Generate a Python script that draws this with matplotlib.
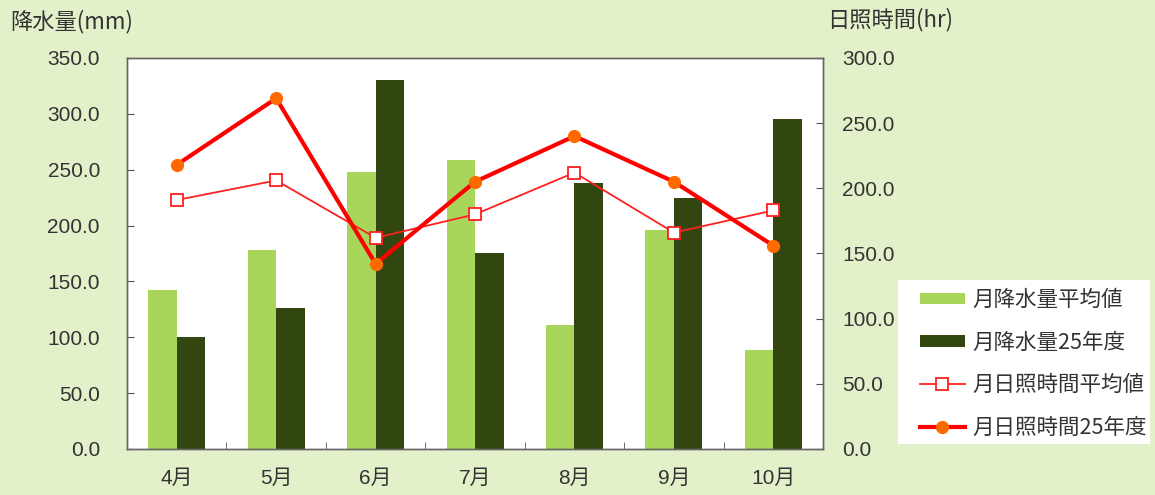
import matplotlib
matplotlib.use("Agg")
import matplotlib.pyplot as plt
from matplotlib.patches import Rectangle
import numpy as np

# data
months = ["4月", "5月", "6月", "7月", "8月", "9月", "10月"]
rain_avg = [142.0, 178.0, 248.0, 259.0, 111.0, 196.0, 89.0]
rain_25 = [100.0, 126.0, 330.0, 175.0, 238.0, 225.0, 295.0]
sun_avg = [191.0, 206.0, 162.0, 180.0, 212.0, 166.0, 183.0]
sun_25 = [218.0, 269.0, 142.0, 205.0, 240.0, 205.0, 156.0]

left_ticks = [0, 50, 100, 150, 200, 250, 300, 350]
right_ticks = [0, 50, 100, 150, 200, 250, 300]

FONT = ["Liberation Sans", "Noto Sans CJK JP", "DejaVu Sans"]
JP = ["Noto Sans CJK JP", "DejaVu Sans"]
plt.rcParams["font.family"] = FONT

bg = "#E3F1CA"
light_green = "#A8D65A"
dark_green = "#31470F"
text_col = "#333333"

fig = plt.figure(figsize=(11.55, 4.95), dpi=100, facecolor=bg)
ax = fig.add_axes([0.110, 0.093, 0.6026, 0.790])
ax.set_facecolor("white")

x = np.arange(len(months))
w = 0.287
b1 = ax.bar(x - w / 2, rain_avg, width=w, color=light_green, label="月降水量平均値")
b2 = ax.bar(x + w / 2, rain_25, width=w, color=dark_green, label="月降水量25年度")

ax.set_xlim(-0.5, len(months) - 0.5)
ax.set_ylim(0, 350)
ax.set_yticks(left_ticks)
ax.set_yticklabels([f"{v:.1f}" for v in left_ticks])
ax.set_xticks(x)
ax.set_xticklabels(months)
ax.set_xticks(np.arange(len(months) - 1) + 0.5, minor=True)
ax.tick_params(axis="x", which="major", length=0, pad=14, labelsize=15, colors=text_col)
ax.tick_params(axis="x", which="minor", direction="in", length=5, color="#555555")
ax.tick_params(axis="y", direction="in", length=5, pad=19.5, labelsize=15,
               colors=text_col, color="#555555")

ax2 = ax.twinx()
l1, = ax2.plot(x, sun_avg, color="#FF2020", lw=1.3, marker="s", markersize=8,
               markerfacecolor="white", markeredgecolor="#FF2020", markeredgewidth=1.3,
               label="月日照時間平均値")
l2, = ax2.plot(x, sun_25, color="#FF0000", lw=3, marker="o", markersize=8.5,
               markerfacecolor="#FF6A00", markeredgecolor="#FF6A00",
               label="月日照時間25年度")
ax2.set_ylim(0, 300)
ax2.set_yticks(right_ticks)
ax2.set_yticklabels([f"{v:.1f}" for v in right_ticks])
ax2.tick_params(axis="y", direction="in", length=5, pad=14, labelsize=15,
                colors=text_col, color="#555555")

for a in (ax, ax2):
    for s in a.spines.values():
        s.set_color("#666666")
        s.set_linewidth(1.0)

# axis titles
fig.text(0.009, 0.957, "降水量(mm)", fontsize=16, color=text_col, va="center", family=JP)
fig.text(0.716, 0.960, "日照時間(hr)", fontsize=16, color=text_col, va="center", family=JP)

# legend with its own white box
fig.patches.append(Rectangle((0.7775, 0.103), 0.218, 0.331, transform=fig.transFigure,
                             facecolor="white", edgecolor="none", zorder=0))
leg = fig.legend(handles=[b1, b2, l1, l2], loc="upper left",
                 bbox_to_anchor=(0.7965, 0.416), bbox_transform=fig.transFigure,
                 frameon=False, handlelength=2.07, handleheight=0.45,
                 handletextpad=0.35, labelspacing=0.95, borderpad=0, borderaxespad=0,
                 prop={"family": JP, "size": 15.5})
for t in leg.get_texts():
    t.set_color(text_col)

fig.savefig("out.png", dpi=100, facecolor=bg)
